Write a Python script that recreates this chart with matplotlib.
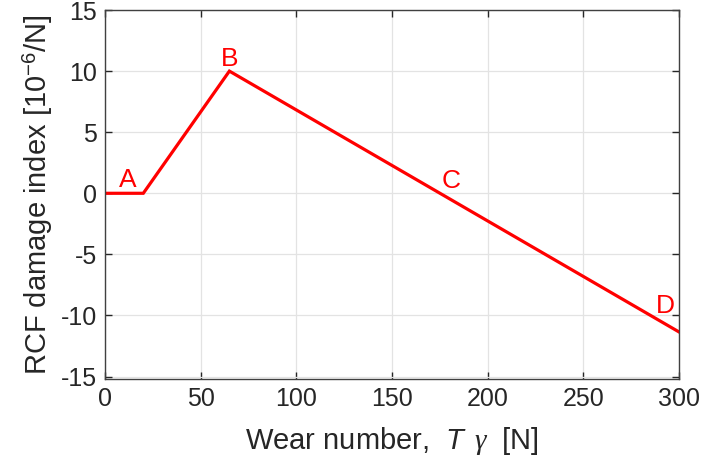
import matplotlib
matplotlib.use("Agg")
import matplotlib.pyplot as plt

plt.rcParams['font.family'] = ['Liberation Sans', 'DejaVu Sans']
plt.rcParams['axes.unicode_minus'] = False
plt.rcParams['mathtext.fontset'] = 'custom'
plt.rcParams['mathtext.rm'] = 'Liberation Sans'
plt.rcParams['mathtext.sf'] = 'Liberation Sans:italic'
plt.rcParams['mathtext.it'] = 'Liberation Serif:italic'

# Data
wear_number = [0, 20, 65, 300]
damage_index = [0, 0, 10.0, -11.35]
point_labels = ['A', 'B', 'C', 'D']
label_x = [12, 65, 181, 293]
label_y = [1.1, 11.0, 1.0, -9.2]
xticks = [0, 50, 100, 150, 200, 250, 300]
yticks = [-15, -10, -5, 0, 5, 10, 15]

fig = plt.figure(figsize=(7.03, 4.66), dpi=100)
ax = fig.add_axes([0.1494, 0.1867, 0.8165, 0.7918])

ax.plot(wear_number, damage_index, color='#ff0000', lw=2.3, solid_joinstyle='miter')
for t, x, y in zip(point_labels, label_x, label_y):
    ax.text(x, y, t, color='#ff0000', fontsize=19, ha='center', va='center')

ax.set_xlim(0, 300)
ax.set_ylim(-15.2, 15)
ax.set_xticks(xticks)
ax.set_yticks(yticks)
ax.tick_params(direction='in', top=True, right=True, labelsize=18, colors='#262626',
               length=5, width=1, pad=6)
ax.grid(True, color='#e3e3e3', lw=0.9)
ax.set_axisbelow(True)
for s in ax.spines.values():
    s.set_color('#404040')
    s.set_linewidth(1)

ax.set_xlabel(r'Wear number,  $\mathsf{T}\ \,\gamma$  [N]', fontsize=21, color='#262626', labelpad=10)
ax.set_ylabel(r'RCF damage index [10$^{-6}$/N]', fontsize=21, color='#262626', labelpad=4)

fig.savefig('out.png', dpi=100)
